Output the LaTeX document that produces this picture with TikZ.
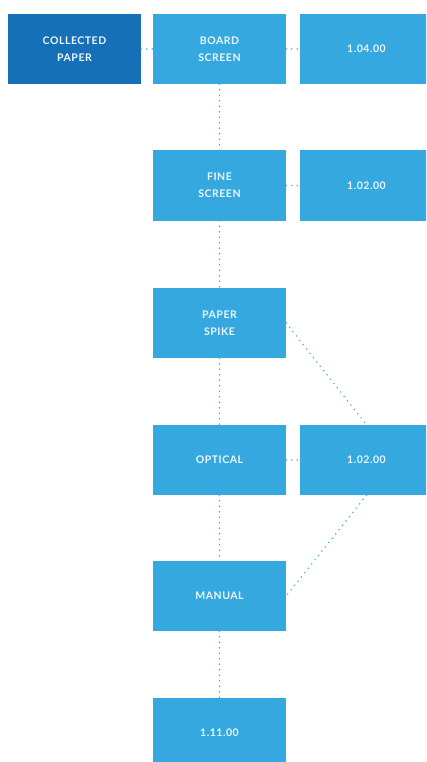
\documentclass[tikz,border=0pt]{standalone}
\usepackage{fontspec}
\newfontfamily\boxfont{Lato}[LetterSpace=5]
\usepackage{tikz}
\usetikzlibrary{arrows.meta}

\definecolor{darkbox}{HTML}{1570B8}
\definecolor{lightbox}{HTML}{35A8DF}
\definecolor{dotline}{HTML}{45AFE3}
\definecolor{boxtext}{HTML}{EEF7FC}

\begin{document}
\begin{tikzpicture}[x=1pt, y=-1pt,
        box/.style = {fill=lightbox, minimum width=133pt, minimum height=70pt,
                      inner sep=0pt, align=center, text=boxtext,
                      font={\boxfont\bfseries\fontsize{10.5}{17}\selectfont}},
        startbox/.style = {box, fill=darkbox},
        link/.style = {dotline, line width=1.7pt, line cap=round,
                       dash pattern=on 0pt off 5.5pt}]
        \useasboundingbox (0,0) rectangle (426,762);
        \clip (0,0) rectangle (426,762);

        % left column
        \node[startbox] (collected) at (74.5, 49) {COLLECTED\\PAPER};

        % middle column
        \node[box] (board)   at (219.5, 49)  {BOARD\\SCREEN};
        \node[box] (fine)    at (219.5, 185.5) {FINE\\SCREEN};
        \node[box] (spike)   at (219.5, 323) {PAPER\\SPIKE};
        \node[box] (optical) at (219.5, 460) {OPTICAL};
        \node[box] (manual)  at (219.5, 596) {MANUAL};
        \node[box] (final)   at (219.5, 733) {1.11.00};

        % right column
        \node[box] (boardout)   at (366.5, 49)    {1.04.00};
        \node[box] (fineout)    at (366.5, 185.5) {1.02.00};
        \node[box] (opticalout) at (366.5, 460)   {1.02.00};

        % dotted links
        \draw[link] (collected) -- (board);
        \draw[link] (board) -- (boardout);
        \draw[link] (board) -- (fine);
        \draw[link] (fine) -- (fineout);
        \draw[link] (fine) -- (spike);
        \draw[link] (spike) -- (optical);
        \draw[link] (spike.east) -- (opticalout.north);
        \draw[link] (optical) -- (opticalout);
        \draw[link] (optical) -- (manual);
        \draw[link] (opticalout.south) -- (manual.east);
        \draw[link] (manual) -- (final);
    \end{tikzpicture}
\end{document}
